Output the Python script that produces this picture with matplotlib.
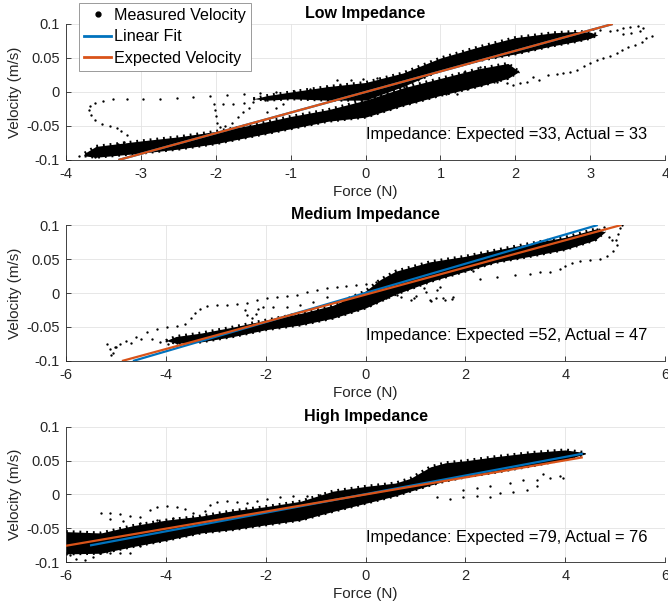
import matplotlib
matplotlib.use("Agg")
import matplotlib.pyplot as plt
from matplotlib.lines import Line2D

plt.rcParams['font.family'] = ['Liberation Sans', 'DejaVu Sans']
plt.rcParams['axes.unicode_minus'] = False

# ---------------- data: Low impedance ----------------
low_sparse_force = [-3.83, -3.75, -3.68, -3.61, -3.55, -3.48, -3.37, -3.30, -3.23,
                    -3.19, -3.26, -3.32, -3.41, -3.52, -3.61, -3.66, -3.69, -3.68, -3.61, -3.50,
                    -3.37, -3.19, -2.97, -2.74, -2.52, -2.30, -2.08, -1.85, -1.63, -1.41, -1.19,
                    -0.96, -0.74, -0.52, -0.34,
                    -2.03, -2.01, -2.00, -1.99, -1.95, -1.88, -1.79, -1.71, -1.64, -1.56,
                    -1.90, -1.77, -1.63, -1.50, -1.34, -1.19, -1.32, -1.19, -1.10,
                    3.82, 3.75, 3.69, 3.60, 3.51, 3.42, 3.35, 3.26, 3.17, 3.09, 3.00, 2.91, 2.82,
                    2.73, 2.64, 2.55, 2.44, 2.31, 2.24, 2.15, 2.06, 1.97, 1.89, 1.75, 1.62, 1.48,
                    1.35, 1.22, 1.08, 0.95,
                    3.35, 3.44, 3.53, 3.64, 3.71, 3.66, 3.55, 3.44, 3.26, 3.13, 3.04,
                    -0.38, -0.20, -0.03, 0.15, 0.33, 0.51, 0.69, 0.86, 0.42, 0.60, 0.77,
                    1.22, 1.40, 1.58, 1.71, 1.53, 1.31]
low_sparse_vel = [-0.094, -0.093, -0.091, -0.095, -0.093, -0.088, -0.083, -0.076, -0.073,
                  -0.063, -0.058, -0.053, -0.050, -0.047, -0.041, -0.034, -0.026, -0.021, -0.016, -0.013,
                  -0.011, -0.010, -0.010, -0.010, -0.009, -0.007, -0.006, -0.005, -0.003, -0.001, 0.000,
                  0.002, 0.004, 0.007, 0.010,
                  -0.018, -0.026, -0.036, -0.045, -0.052, -0.050, -0.045, -0.037, -0.030, -0.024,
                  -0.018, -0.017, -0.016, -0.014, -0.012, -0.009, -0.029, -0.024, -0.017,
                  0.082, 0.079, 0.074, 0.069, 0.066, 0.062, 0.057, 0.053, 0.050, 0.047, 0.043, 0.038, 0.033,
                  0.030, 0.028, 0.026, 0.025, 0.018, 0.022, 0.015, 0.013, 0.010, 0.013, 0.014, 0.013, 0.010,
                  0.005, -0.003, -0.003, -0.002,
                  0.091, 0.094, 0.096, 0.097, 0.094, 0.089, 0.087, 0.086, 0.089, 0.091, 0.092,
                  0.017, 0.018, 0.019, 0.020, 0.013, 0.008, 0.003, -0.002, -0.002, -0.007, -0.005,
                  0.013, 0.018, 0.023, 0.030, 0.037, 0.030]
# dense bands (envelopes of the crowded measured points)
low_bandA_force = [-1.5, -1.3, -1.0, -0.5, 0.0, 0.5, 1.0, 1.5, 2.0, 2.5, 2.8, 3.0, 3.1]
low_bandA_lo = [-0.010, -0.012, -0.010, -0.012, -0.012, 0.008, 0.032, 0.046, 0.056, 0.068, 0.074, 0.079, 0.084]
low_bandA_hi = [-0.010, -0.005, 0.000, 0.008, 0.014, 0.028, 0.050, 0.066, 0.080, 0.087, 0.089, 0.088, 0.084]
low_bandB_force = [-3.75, -3.6, -3.0, -2.5, -2.0, -1.5, -1.0, -0.5, 0.0, 0.5, 1.0, 1.5, 1.9, 2.05]
low_bandB_lo = [-0.094, -0.096, -0.090, -0.084, -0.076, -0.065, -0.054, -0.043, -0.037, -0.020, -0.005, 0.008, 0.020, 0.030]
low_bandB_hi = [-0.090, -0.080, -0.072, -0.066, -0.058, -0.048, -0.036, -0.026, -0.012, 0.006, 0.020, 0.034, 0.042, 0.030]
low_fit_force = [-3.3, 3.3]
low_fit_vel = [-0.100, 0.100]
low_exp_force = [-3.3, 3.3]
low_exp_vel = [-0.100, 0.100]

# ---------------- data: Medium impedance ----------------
med_sparse_force = [-5.18, -5.12, -5.05, -5.02, -5.10,
                    -4.99, -4.79, -4.59, -4.38, -4.18, -3.98, -3.78, -3.62, -3.50, -3.42, -3.32,
                    -3.18, -2.98, -2.78, -2.58, -2.38, -2.18, -1.98, -1.78, -1.58, -1.38, -1.18,
                    -0.98, -0.78, -0.58, -0.40, -0.20, 0.00, 0.20,
                    -4.92, -4.69, -4.49, -4.28, -4.12, -3.95, -3.78, -3.62,
                    -2.41, -2.38, -2.28, -2.19, -2.15, -2.05, -1.85, -1.58, -1.31, -1.05, -0.78,
                    0.29, 0.62, 0.96, 1.29, 1.56, 1.73, 1.43, 1.16, 1.49, 0.83,
                    0.40, 0.70, 1.00, 1.20, 1.40, 1.60, 1.75, 1.30, 0.90,
                    1.96, 2.16, 2.29, 2.63, 3.00, 3.30, 3.50, 3.70, 3.90, 4.00, 4.13, 4.30, 4.50,
                    4.70, 4.83, 4.95, 5.03, 5.02, 5.05, 5.10, 5.13, 4.87, 4.93, 4.63, 4.77]
med_sparse_vel = [-0.075, -0.082, -0.088, -0.080, -0.091,
                  -0.079, -0.070, -0.064, -0.058, -0.053, -0.050, -0.048, -0.045, -0.037, -0.029, -0.023,
                  -0.019, -0.018, -0.017, -0.016, -0.014, -0.011, -0.008, -0.006, -0.005, -0.003, 0.001,
                  0.004, 0.007, 0.009, 0.011, 0.012, 0.013, 0.016,
                  -0.075, -0.073, -0.068, -0.068, -0.072, -0.075, -0.073, -0.070,
                  -0.025, -0.032, -0.037, -0.031, -0.024, -0.021, -0.021, -0.021, -0.018, -0.013, -0.006,
                  0.004, -0.003, -0.008, -0.010, -0.008, -0.009, 0.004, 0.007, 0.009, 0.009,
                  -0.008, -0.006, -0.004, 0.002, -0.008, -0.010, -0.006, -0.012, -0.010,
                  0.034, 0.033, 0.020, 0.023, 0.026, 0.028, 0.031, 0.031, 0.035, 0.040, 0.044, 0.047, 0.049,
                  0.050, 0.054, 0.062, 0.071, 0.078, 0.087, 0.095, 0.100, 0.083, 0.078, 0.094, 0.097]
med_band_force = [-4.0, -3.8, -3.3, -2.65, -2.0, -1.3, -0.65, 0.0, 0.3, 0.6, 1.3, 2.0, 2.6, 3.3, 4.0, 4.6, 4.8]
med_band_lo = [-0.070, -0.074, -0.072, -0.064, -0.054, -0.047, -0.037, -0.022, -0.012, -0.002, 0.017, 0.032,
               0.045, 0.054, 0.064, 0.078, 0.090]
med_band_hi = [-0.070, -0.064, -0.059, -0.050, -0.040, -0.030, -0.018, 0.003, 0.020, 0.032, 0.046, 0.054,
               0.063, 0.073, 0.082, 0.094, 0.090]
med_fit_force = [-4.66, 4.65]
med_fit_vel = [-0.100, 0.100]
med_exp_force = [-4.88, 5.12]
med_exp_vel = [-0.100, 0.100]

# ---------------- data: High impedance ----------------
high_sparse_force = [-5.92, -5.79, -5.62, -5.45, -5.32, -5.12, -4.92, -4.72, -4.52,
                     -5.29, -5.12, -4.92, -4.72, -4.52, -4.32, -4.18, -3.98, -3.78, -3.62, -3.45,
                     -3.32, -3.22, -3.12, -2.98, -2.78, -2.58, -2.38, -2.18, -1.98, -1.71, -1.45,
                     -1.18, -0.91,
                     -5.12, -4.85, -4.52, -4.18, -3.85, -3.58, -3.32,
                     1.43, 1.69, 1.96, 2.23, 2.49, 2.70, 2.96, 3.23, 3.43, 2.90, 3.16, 3.43, 3.70,
                     3.90, 3.96, 3.56, 2.49, 2.23, 1.96]
high_sparse_vel = [-0.090, -0.095, -0.097, -0.092, -0.086, -0.086, -0.087, -0.086, -0.077,
                   -0.028, -0.027, -0.029, -0.032, -0.034, -0.023, -0.018, -0.017, -0.018, -0.022, -0.028,
                   -0.033, -0.024, -0.016, -0.011, -0.010, -0.011, -0.012, -0.009, -0.006, -0.004, -0.002,
                   -0.002, -0.001,
                   -0.037, -0.039, -0.042, -0.038, -0.035, -0.037, -0.040,
                   -0.004, -0.006, -0.004, -0.002, -0.003, 0.002, 0.004, 0.007, 0.012, 0.017, 0.021, 0.022, 0.025,
                   0.027, 0.024, 0.031, 0.012, 0.009, 0.007]
high_band_force = [-6.0, -5.3, -4.65, -4.0, -3.3, -2.65, -2.0, -1.3, -0.65, 0.0, 0.6, 0.9, 1.3, 1.6, 2.0,
                   2.6, 3.3, 4.0, 4.4]
high_band_lo = [-0.088, -0.087, -0.077, -0.068, -0.057, -0.052, -0.045, -0.038, -0.025, -0.013, -0.002, 0.005,
                0.014, 0.020, 0.026, 0.033, 0.042, 0.052, 0.060]
high_band_hi = [-0.055, -0.057, -0.046, -0.038, -0.032, -0.024, -0.018, -0.010, 0.005, 0.012, 0.017, 0.024,
                0.041, 0.047, 0.050, 0.056, 0.062, 0.066, 0.062]
high_fit_force = [-5.52, 4.35]
high_fit_vel = [-0.0755, 0.0605]
high_exp_force = [-6.03, 4.35]
high_exp_vel = [-0.0763, 0.0551]

titles = ['Low Impedance', 'Medium Impedance', 'High Impedance']
annotations = ['Impedance: Expected =33, Actual = 33',
               'Impedance: Expected =52, Actual = 47',
               'Impedance: Expected =79, Actual = 76']
xticks_list = [[-4, -3, -2, -1, 0, 1, 2, 3, 4], [-6, -4, -2, 0, 2, 4, 6], [-6, -4, -2, 0, 2, 4, 6]]
yticks = [-0.1, -0.05, 0, 0.05, 0.1]
ytick_labels = ['-0.1', '-0.05', '0', '0.05', '0.1']

BLUE = '#0072BD'
ORANGE = '#D95319'
TXT = '#262626'

fig = plt.figure(figsize=(6.68, 6.06), dpi=100)
positions = [[0.0988, 0.736, 0.897, 0.2244],
             [0.0988, 0.4043, 0.897, 0.2244],
             [0.0988, 0.0726, 0.897, 0.2228]]

panels = [
    (low_sparse_force, low_sparse_vel,
     [(low_bandA_force, low_bandA_lo, low_bandA_hi), (low_bandB_force, low_bandB_lo, low_bandB_hi)],
     low_fit_force, low_fit_vel, low_exp_force, low_exp_vel),
    (med_sparse_force, med_sparse_vel, [(med_band_force, med_band_lo, med_band_hi)],
     med_fit_force, med_fit_vel, med_exp_force, med_exp_vel),
    (high_sparse_force, high_sparse_vel, [(high_band_force, high_band_lo, high_band_hi)],
     high_fit_force, high_fit_vel, high_exp_force, high_exp_vel),
]

for i, (sf, sv, bands, ff, fv, ef, ev) in enumerate(panels):
    ax = fig.add_axes(positions[i])
    for bf, blo, bhi in bands:
        ax.fill_between(bf, blo, bhi, color='k', lw=0, zorder=2)
        # ragged dotted rim of the dense clouds
        ax.plot(bf, blo, color='k', ls=(0, (0.6, 1.6)), lw=2.2, zorder=2)
        ax.plot(bf, bhi, color='k', ls=(0, (0.6, 1.6)), lw=2.2, zorder=2)
    ax.plot(sf, sv, ls='none', marker='o', ms=1.7, mew=0, color='k', zorder=2)
    ax.plot(ff, fv, color=BLUE, lw=1.6, solid_capstyle='butt', zorder=3)
    ax.plot(ef, ev, color=ORANGE, lw=1.6, solid_capstyle='butt', zorder=4)

    xt = xticks_list[i]
    ax.set_xlim(xt[0], xt[-1])
    ax.set_ylim(-0.1, 0.1)
    ax.set_xticks(xt)
    ax.set_xticklabels([str(v) for v in xt])
    ax.set_yticks(yticks)
    ax.set_yticklabels(ytick_labels)
    ax.grid(True, color='#e3e3e3', lw=0.6, zorder=0)
    ax.set_axisbelow(True)
    for s in ['top', 'right']:
        ax.spines[s].set_visible(False)
    for s in ['left', 'bottom']:
        ax.spines[s].set_color(TXT)
        ax.spines[s].set_linewidth(0.6)
    ax.tick_params(direction='in', length=3.5, width=0.6, colors=TXT, labelsize=10.5)
    ax.tick_params(axis='x', pad=5)
    ax.tick_params(axis='y', pad=4.5)
    ax.set_title(titles[i], fontsize=11.5, fontweight='bold', color='k', pad=4)
    ax.set_xlabel('Force (N)', fontsize=11, color=TXT, labelpad=3)
    ax.set_ylabel('Velocity (m/s)', fontsize=11, color=TXT, labelpad=3)
    ax.text(0.0, -0.063, annotations[i], fontsize=11.8, color='k',
            ha='left', va='center', zorder=5)

    if i == 0:
        handles = [Line2D([], [], ls='none', marker='o', ms=3.5, color='k'),
                   Line2D([], [], color=BLUE, lw=2),
                   Line2D([], [], color=ORANGE, lw=2)]
        leg = ax.legend(handles, ['Measured Velocity', 'Linear Fit', 'Expected Velocity'],
                        loc='upper left', bbox_to_anchor=(0.0217, 1.154), borderaxespad=0,
                        fontsize=11.6, frameon=True, fancybox=False, framealpha=1,
                        edgecolor='#8a8a8a', handlelength=1.7, handletextpad=0.2,
                        labelspacing=0.4, borderpad=0.3, numpoints=1)
        leg.get_frame().set_linewidth(0.6)
        leg.set_zorder(10)

fig.savefig('out.png', dpi=100)
